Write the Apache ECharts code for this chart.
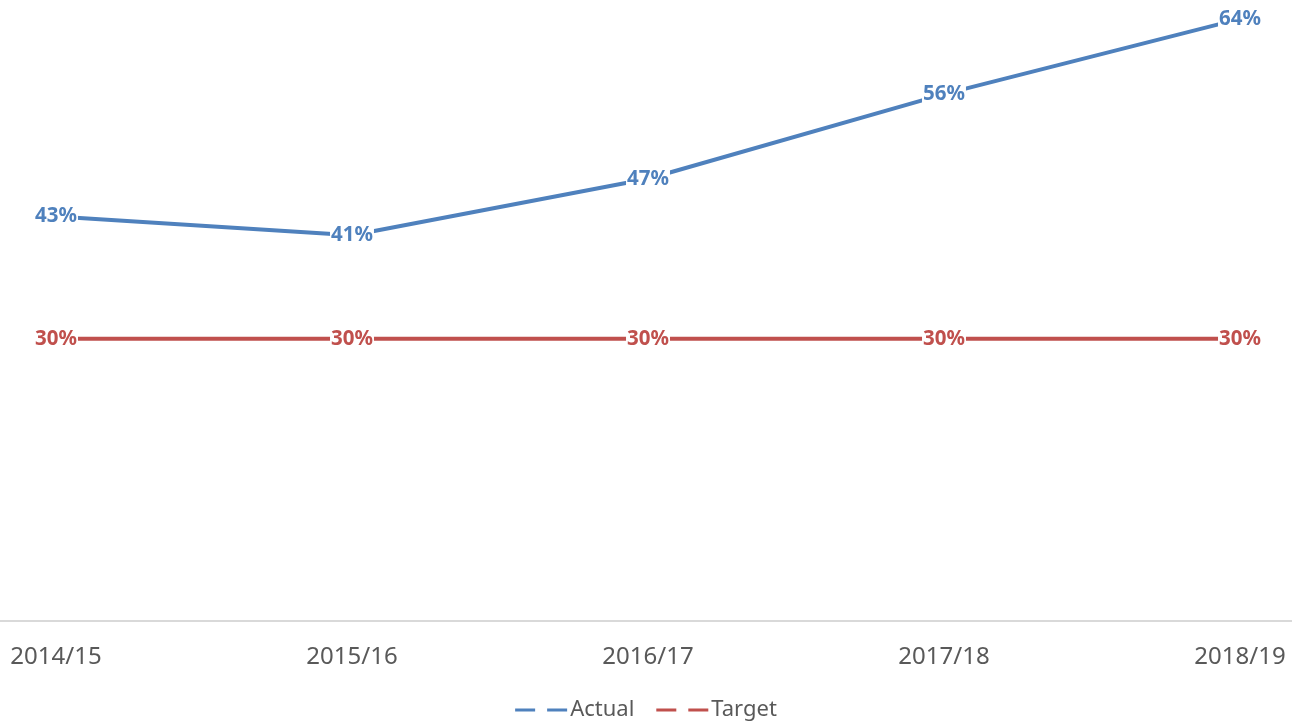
<!DOCTYPE html>
<html>
<head>
<meta charset="utf-8">
<script src="https://cdn.jsdelivr.net/npm/echarts@6/dist/echarts.min.js"></script>
<style>
	html, body { margin: 0; padding: 0; background: #fff; }
	#chart { width: 1292px; height: 722px; }
</style>
</head>
<body>
<div id="chart"></div>
<script>
const years = ["2014/15", "2015/16", "2016/17", "2017/18", "2018/19"];
const actual = [0.43, 0.41, 0.47, 0.56, 0.64];
const target = [0.30, 0.30, 0.30, 0.30, 0.30];

const blue = "#4F81BD";
const red = "#C0504D";
const dashIcon = "path://M0,0h20v3h-20z M32,0h20v3h-20z";

function pct(p) {
	return Math.round(p.value * 100) + "%";
}

function labelFor(color) {
	return {
		show: true,
		position: "inside",
		formatter: pct,
		color: color,
		fontFamily: "Noto Sans",
		fontWeight: "bold",
		fontSize: 20.5,
		backgroundColor: "#fff",
		padding: [0, 1]
	};
}

const chart = echarts.init(document.getElementById("chart"));
chart.setOption({
	animation: false,
	grid: [
		{ left: 56, right: 52, top: 0, bottom: 101 },
		{ left: 0, right: 0, top: 0, bottom: 101 }
	],
	legend: {
		bottom: -4,
		left: "center",
		itemWidth: 52,
		itemHeight: 3,
		itemGap: 22,
		textStyle: { color: "#595959", fontFamily: "Noto Sans", fontSize: 22, padding: [0, 0, 0, -2] },
		data: [
			{ name: "Actual", icon: dashIcon },
			{ name: "Target", icon: dashIcon }
		]
	},
	xAxis: [
		{
			type: "category",
			data: years,
			boundaryGap: false,
			gridIndex: 0,
			axisLine: { show: false },
			axisTick: { show: false },
			axisLabel: { color: "#595959", fontFamily: "Noto Sans", fontSize: 24, margin: 24 }
		},
		{
			type: "value",
			gridIndex: 1,
			axisLine: { show: true, lineStyle: { color: "#d9d9d9", width: 2 } },
			axisTick: { show: false },
			axisLabel: { show: false },
			splitLine: { show: false }
		}
	],
	yAxis: [
		{ type: "value", min: 0, max: 0.66, gridIndex: 0, show: false },
		{ type: "value", gridIndex: 1, show: false }
	],
	series: [
		{
			name: "Actual",
			type: "line",
			data: actual,
			symbol: "circle",
			symbolSize: 0,
			lineStyle: { color: blue, width: 4 },
			itemStyle: { color: blue },
			label: labelFor(blue),
			z: 3
		},
		{
			name: "Target",
			type: "line",
			data: target,
			symbol: "circle",
			symbolSize: 0,
			lineStyle: { color: red, width: 4 },
			itemStyle: { color: red },
			label: labelFor(red),
			z: 2
		}
	]
});
</script>
</body>
</html>
